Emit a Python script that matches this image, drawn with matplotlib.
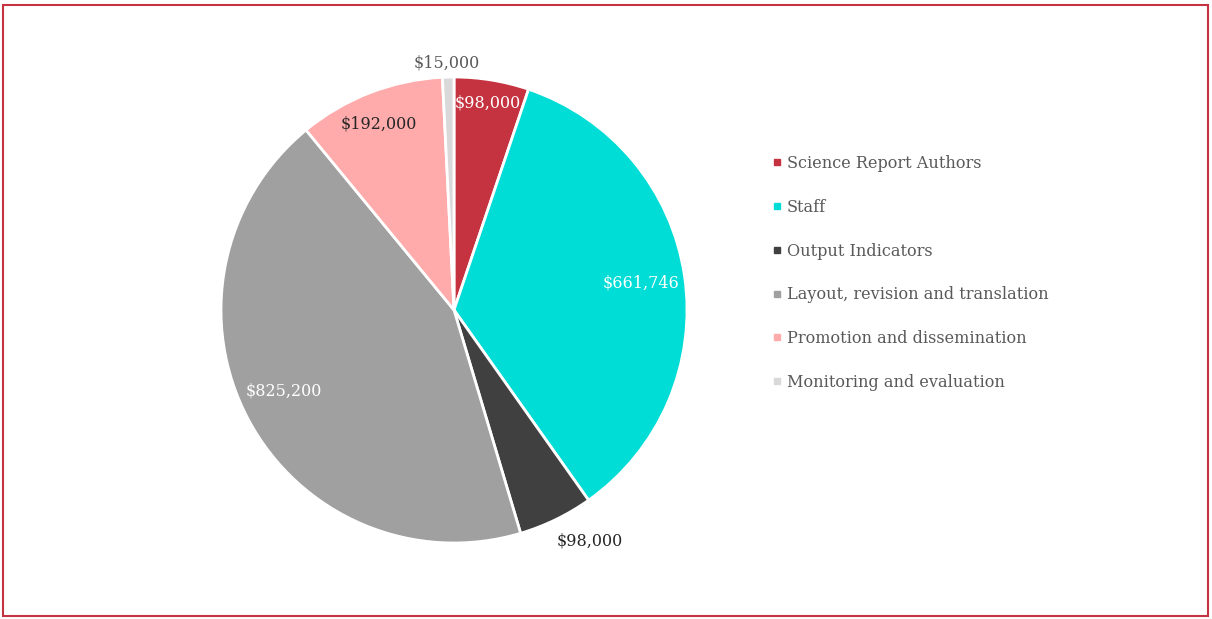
import numpy as np
import matplotlib
matplotlib.use("Agg")
import matplotlib.pyplot as plt
from matplotlib.patches import Rectangle
from matplotlib.lines import Line2D

categories = ["Science Report Authors", "Staff", "Output Indicators",
              "Layout, revision and translation", "Promotion and dissemination",
              "Monitoring and evaluation"]
values = [98000, 661746, 98000, 825200, 192000, 15000]
value_labels = ["$98,000", "$661,746", "$98,000", "$825,200", "$192,000", "$15,000"]
colors = ["#C4333F", "#00DCD6", "#404040", "#A0A0A0", "#FFABAB", "#D9D9D9"]
label_colors = ["white", "white", "#262626", "white", "#262626", "#595959"]
label_radius = [0.90, 0.81, 1.15, 0.81, 0.86, 1.06]
label_shift = [0, 0, 4.5, -2.5, 0.8, 0.2]

W, H = 1212, 619
fig = plt.figure(figsize=(W / 100, H / 100), dpi=100)
fig.patch.set_facecolor("white")

font = "DejaVu Serif"
cx, cy, r = 454, H - 310, 233
ax = fig.add_axes([(cx - r) / W, (cy - r) / H, 2 * r / W, 2 * r / H])
wedges, _ = ax.pie(values, colors=colors, startangle=90, counterclock=False,
                   radius=1, wedgeprops=dict(edgecolor="white", linewidth=2))
ax.set_xlim(-1, 1)
ax.set_ylim(-1, 1)
ax.set_aspect("equal")
ax.axis("off")

for w, lab, col, rad, sh in zip(wedges, value_labels, label_colors, label_radius, label_shift):
    ang = np.deg2rad((w.theta1 + w.theta2) / 2 + sh)
    ax.text(rad * np.cos(ang), rad * np.sin(ang), lab, ha="center", va="center",
            color=col, fontsize=11.5, family=font, clip_on=False)

handles = [Line2D([], [], marker="s", linestyle="none", markersize=5,
                  markerfacecolor=c, markeredgecolor=c) for c in colors]
leg = fig.legend(handles, categories, loc="upper left",
                 bbox_to_anchor=(765 / W, 1 - 147 / H), frameon=False,
                 prop=dict(family=font, size=11.6), labelspacing=1.66,
                 handlelength=0.5, handletextpad=0.35, borderpad=0)
for t in leg.get_texts():
    t.set_color("#595959")

fig.add_artist(Rectangle((3 / W, 3 / H), 1205 / W, 611 / H, transform=fig.transFigure,
                         fill=False, edgecolor="#C4333F", linewidth=1.5))

fig.savefig("out.png", dpi=100, facecolor="white")
